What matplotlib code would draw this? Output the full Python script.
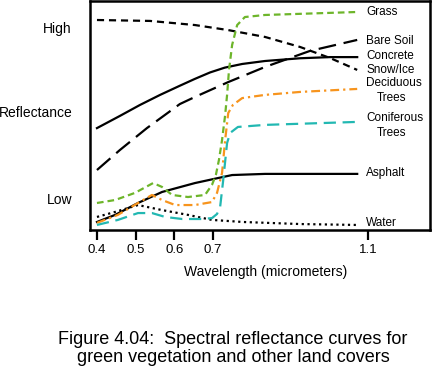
import matplotlib

matplotlib.use("Agg")

import matplotlib.pyplot as plt

plt.rcParams["font.family"] = ["Liberation Sans", "DejaVu Sans"]

# wavelength (micrometers) and relative reflectance (0 = low, 100 = high)
snow_wl = [0.40, 0.537, 0.653, 0.739, 0.834, 0.925, 1.002, 1.072]
snow_val = [91.7, 91.3, 89.5, 87.3, 84.3, 79.9, 75.1, 69.9]

concrete_wl = [0.40, 0.459, 0.511, 0.563, 0.614, 0.653, 0.692, 0.730, 0.775, 0.834, 0.925, 1.002, 1.072]
concrete_val = [44.5, 49.8, 54.6, 59.0, 63.0, 66.0, 68.8, 70.9, 72.5, 73.8, 75.0, 75.5, 75.5]

soil_wl = [0.40, 0.459, 0.529, 0.614, 0.653, 0.739, 0.834, 0.950, 1.072]
soil_val = [26.2, 34.9, 44.5, 55.0, 58.1, 64.6, 71.2, 78.2, 83.0]

grass_wl = [0.40, 0.447, 0.498, 0.545, 0.568, 0.594, 0.635, 0.679, 0.697, 0.707,
            0.715, 0.723, 0.731, 0.736, 0.741, 0.749, 0.762, 0.782, 0.834, 1.072]
grass_val = [11.8, 13.1, 16.2, 20.5, 18.8, 15.3, 14.4, 15.3, 19.7, 24.0,
             30.6, 39.3, 50.2, 59.0, 69.9, 80.8, 89.5, 93.0, 93.9, 95.2]

decid_wl = [0.40, 0.454, 0.506, 0.542, 0.568, 0.602, 0.653, 0.697, 0.710, 0.723,
            0.731, 0.739, 0.751, 0.775, 0.834, 0.925, 1.072]
decid_val = [3.1, 6.6, 11.8, 15.3, 13.1, 10.9, 10.9, 12.2, 16.2, 24.9,
             39.3, 51.1, 54.6, 57.6, 59.0, 60.3, 61.6]

conif_wl = [0.40, 0.454, 0.506, 0.542, 0.576, 0.620, 0.671, 0.697, 0.710, 0.718,
            0.726, 0.736, 0.744, 0.764, 0.834, 1.072]
conif_val = [2.2, 4.4, 7.4, 7.4, 5.7, 4.8, 4.8, 5.2, 7.0, 10.0,
             21.8, 38.0, 42.4, 45.0, 45.9, 47.2]

asphalt_wl = [0.40, 0.447, 0.506, 0.568, 0.653, 0.713, 0.749, 0.834, 1.072]
asphalt_val = [3.5, 6.6, 11.8, 16.6, 20.5, 22.7, 24.0, 24.5, 24.5]

water_wl = [0.40, 0.447, 0.506, 0.568, 0.635, 0.697, 0.777, 0.925, 1.072]
water_val = [5.7, 7.9, 10.9, 8.7, 6.6, 4.4, 3.5, 2.6, 2.2]

tick_values = [0.4, 0.5, 0.6, 0.7, 1.1]

GREEN = "#6db52a"
ORANGE = "#f7941d"
TEAL = "#22b8b2"

fig = plt.figure(figsize=(4.32, 3.73), dpi=100)
ax = fig.add_axes([90 / 432, 1 - 230 / 373, 340 / 432, 229 / 373])

lw = 1.6
ax.plot(snow_wl, snow_val, color="black", lw=lw, dashes=(3.2, 2.2))
ax.plot(concrete_wl, concrete_val, color="black", lw=lw)
ax.plot(soil_wl, soil_val, color="black", lw=lw, dashes=(8, 3.5))
ax.plot(asphalt_wl, asphalt_val, color="black", lw=lw)
ax.plot(water_wl, water_val, color="black", lw=lw, dashes=(1, 1.6))
ax.plot(grass_wl, grass_val, color=GREEN, lw=lw, dashes=(3, 1.8))
ax.plot(decid_wl, decid_val, color=ORANGE, lw=lw, dashes=(4, 1.8, 1, 1.8))
ax.plot(conif_wl, conif_val, color=TEAL, lw=lw, dashes=(5.5, 3))

labels = [
    ("Grass", 1.095, 95.2),
    ("Bare Soil", 1.095, 82.5),
    ("Concrete", 1.095, 76.0),
    ("Snow/Ice", 1.095, 69.9),
    ("Deciduous", 1.095, 64.0),
    ("Trees", 1.122, 57.6),
    ("Coniferous", 1.095, 48.9),
    ("Trees", 1.122, 42.4),
    ("Asphalt", 1.095, 24.9),
    ("Water", 1.095, 3.1),
]
for text, x, y in labels:
    ax.text(x, y, text, fontsize=8.5, ha="left", va="center")

ax.set_xlim(0.382, 1.26)
ax.set_ylim(0, 100)
ax.set_xticks(tick_values)
ax.set_xticklabels([str(t) for t in tick_values], fontsize=9.5)
ax.set_yticks([])
ax.tick_params(axis="x", direction="out", length=7, width=1.6, pad=3)
for spine in ax.spines.values():
    spine.set_linewidth(1.8)

fig.text(72 / 432, 1 - 29 / 373, "High", fontsize=10, ha="right", va="center")
fig.text(73 / 432, 1 - 113 / 373, "Reflectance", fontsize=10, ha="right", va="center")
fig.text(72 / 432, 1 - 200 / 373, "Low", fontsize=10, ha="right", va="center")
fig.text(266 / 432, 1 - 272 / 373, "Wavelength (micrometers)", fontsize=10,
         ha="center", va="center")

fig.text(233 / 432, 1 - 339 / 373, "Figure 4.04:  Spectral reflectance curves for",
         fontsize=13, ha="center", va="center")
fig.text(233 / 432, 1 - 358 / 373, "green vegetation and other land covers",
         fontsize=13, ha="center", va="center")

fig.savefig("out.png", dpi=100)
plt.close(fig)
